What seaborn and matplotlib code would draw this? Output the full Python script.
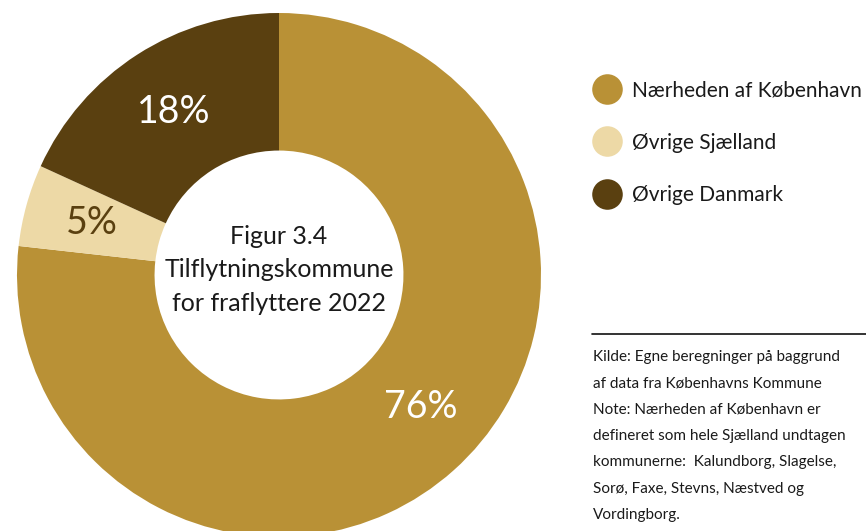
import matplotlib
matplotlib.use("Agg")
import numpy as np
import matplotlib.pyplot as plt
from matplotlib.lines import Line2D
import seaborn as sns

# Data
categories = ["Nærheden af København", "Øvrige Sjælland", "Øvrige Danmark"]
shares = [76, 5, 18]
colors = ["#B99136", "#EDD9A6", "#5A4010"]
label_colors = ["white", "#5A4010", "white"]
center_title = "Figur 3.4\nTilflytningskommune\nfor fraflyttere 2022"
note_lines = [
    "Kilde: Egne beregninger på baggrund",
    "af data fra Københavns Kommune",
    "Note: Nærheden af København er",
    "defineret som hele Sjælland undtagen",
    "kommunerne:  Kalundborg, Slagelse,",
    "Sorø, Faxe, Stevns, Næstved og",
    "Vordingborg.",
]

sns.set_theme(style="white")
plt.rcParams["font.family"] = ["Lato", "DejaVu Sans"]
text_color = "#1A1A1A"

W, H = 866, 531
fig = plt.figure(figsize=(W / 100, H / 100), dpi=100)
fig.patch.set_facecolor("white")

# Donut axes: centre at (279, 275) px, outer radius 262 px
cx, cy, r = 279, 275, 262
ax = fig.add_axes([(cx - r) / W, (H - cy - r) / H, 2 * r / W, 2 * r / H])
total = sum(shares)
wedges, _, autotexts = ax.pie(
    shares,
    colors=colors,
    startangle=90,
    counterclock=False,
    radius=1.0,
    wedgeprops=dict(width=0.525, linewidth=0),
    autopct=lambda p: f"{p * total / 100:.0f}%",
    pctdistance=0.74,
    textprops=dict(fontsize=27, fontweight="normal"),
)
for t, c in zip(autotexts, label_colors):
    t.set_color(c)
# the large slice's label sits a little closer to its right-hand side
big_angle = np.deg2rad(-43)
autotexts[0].set_position((0.74 * np.cos(big_angle), 0.74 * np.sin(big_angle)))
ax.set_xlim(-1, 1)
ax.set_ylim(-1, 1)
ax.axis("off")

ax.text(0, 0.02, center_title, ha="center", va="center", fontsize=18,
        color=text_color, linespacing=1.55)

# Legend with round markers
handles = [Line2D([0], [0], marker="o", linestyle="none", markersize=22,
                  markerfacecolor=c, markeredgewidth=0) for c in colors]
fig.legend(handles, categories, loc="upper left",
           bbox_to_anchor=(583 / W, 1 - 70 / H), frameon=False,
           fontsize=15, labelcolor=text_color, handletextpad=0.55,
           labelspacing=1.55, borderpad=0, handlelength=1.3)

# Source / note block
fig.add_artist(Line2D([592 / W, 1.0], [1 - 334 / H] * 2, color="#111111",
                      linewidth=1.2))
fig.text(593 / W, 1 - 350 / H, "\n".join(note_lines), ha="left", va="top",
         fontsize=11, color=text_color, linespacing=2.12)

fig.savefig("out.png", dpi=100, facecolor="white")
